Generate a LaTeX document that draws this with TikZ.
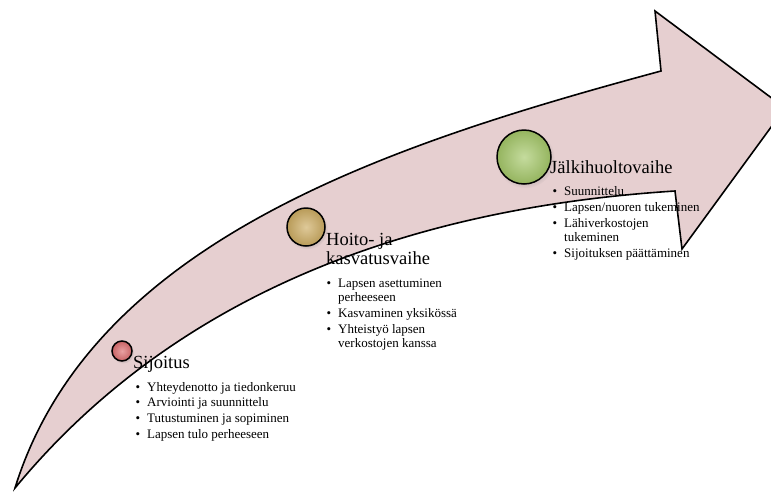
\documentclass[tikz,border=0pt]{standalone}
\usepackage{fontspec}
\setmainfont{Liberation Serif}
\usetikzlibrary{shadows}

\definecolor{arrowpink}{RGB}{230,207,208}
\definecolor{ballred}{RGB}{222,110,112}
\definecolor{ballgold}{RGB}{205,172,98}
\definecolor{ballgreen}{RGB}{165,200,105}

\newcommand{\bul}{\llap{\textbullet\hspace{7pt}}}

\begin{document}
\begin{tikzpicture}[x=1pt,y=-1pt,
	stage/.style={anchor=base west, inner sep=0pt, font=\fontsize{18.5}{19.5}\selectfont},
	entry/.style={anchor=base west, inner sep=0pt, font=\fontsize{13}{14}\selectfont},
	ball/.style={circle, draw=black, line width=1.5pt, inner sep=0pt, shading=radial,
		inner color=#1!65!white, outer color=#1!90!black,
		circular drop shadow={opacity=0.2, shadow xshift=1pt, shadow yshift=-1.5pt}}]
	\useasboundingbox (0,0) rectangle (771,491);
	\clip (0,0) rectangle (771,491);

	% curved arrow
	\draw[fill=arrowpink, line width=1.6pt, line join=miter]
		(15,488) .. controls (92,240) and (391,144) .. (661,71)
		-- (655,11) -- (785,108) -- (682,249) -- (675,191)
		.. controls (346,212) and (142,334) .. (15,488) -- cycle;

	% balls
	\node[ball=ballred, minimum size=20pt] (ballA) at (122,351) {};
	\node[ball=ballgold, minimum size=38pt] (ballB) at (306,227) {};
	\node[ball=ballgreen, minimum size=54pt] (ballC) at (524,157) {};

	% Sijoitus
	\node[stage] (sijoitus) at (133,368) {Sijoitus};
	\foreach \y/\txt [count=\i] in {391/\bul Yhteydenotto ja tiedonkeruu,
			406/\bul Arviointi ja suunnittelu,
			422/\bul Tutustuminen ja sopiminen,
			438/\bul Lapsen tulo perheeseen}
		\node[entry] (s\i) at (147,\y) {\txt};

	% Hoito- ja kasvatusvaihe
	\node[stage] (hoito) at (326,245) {Hoito- ja};
	\node[stage] (kasvatus) at (326,264) {kasvatusvaihe};
	\foreach \y/\txt [count=\i] in {287/\bul Lapsen asettuminen,
			301/perheeseen,
			317/\bul Kasvaminen yksikössä,
			333/\bul Yhteistyö lapsen,
			347/verkostojen kanssa}
		\node[entry] (h\i) at (338,\y) {\txt};

	% Jälkihuoltovaihe
	\node[stage] (jalki) at (550,173) {Jälkihuoltovaihe};
	\foreach \y/\txt [count=\i] in {195/\bul Suunnittelu,
			211/{\bul Lapsen/nuoren tukeminen},
			227/\bul Lähiverkostojen,
			241/tukeminen,
			257/\bul Sijoituksen päättäminen}
		\node[entry] (j\i) at (564,\y) {\txt};
\end{tikzpicture}
\end{document}
